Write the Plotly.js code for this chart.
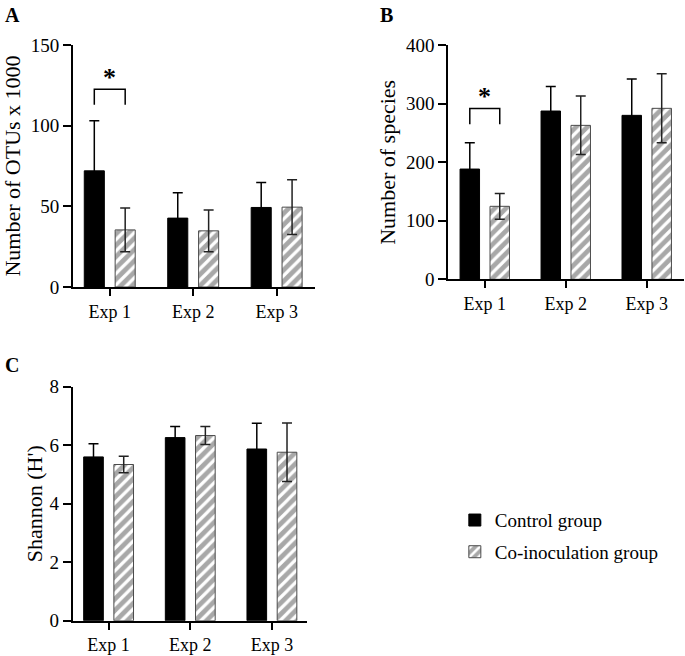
<!DOCTYPE html>
<html>
<head>
<meta charset="utf-8">
<script src="https://cdn.plot.ly/plotly-3.0.1.min.js"></script>
<style>html,body{margin:0;padding:0;background:#fff;}#chart{width:685px;height:656px;}</style>
</head>
<body>
<div id="chart"></div>
<script>
// ---- data ----
const categories = ["Exp 1", "Exp 2", "Exp 3"];
const seriesNames = ["Control group", "Co-inoculation group"];

const otuControl = [72, 42.7, 49.3];
const otuControlErr = [31, 15.7, 15.5];
const otuCoinoc = [35.4, 34.8, 49.5];
const otuCoinocErr = [13.5, 13, 17];

const speciesControl = [188.5, 287.7, 280.3];
const speciesControlErr = [45, 42, 62];
const speciesCoinoc = [124.8, 263.2, 292.3];
const speciesCoinocErr = [22, 50, 59];

const shannonControl = [5.6, 6.26, 5.87];
const shannonControlErr = [0.45, 0.38, 0.88];
const shannonCoinoc = [5.34, 6.33, 5.76];
const shannonCoinocErr = [0.28, 0.31, 1.0];

const otuTicks = [0, 50, 100, 150];
const speciesTicks = [0, 100, 200, 300, 400];
const shannonTicks = [0, 2, 4, 6, 8];

// significance brackets (data units): [bracket top, leg bottom, star]
const otuSig = [122.5, 113, 130];
const speciesSig = [292, 265, 313];

// ---- style ----
const serif = "Liberation Serif";
const ctrlColor = "#000000";
const coBg = "#a8a8a8";

function ctrlTrace(y, err, xa, ya, show) {
  return {
    type: "bar", x: categories, y: y, name: seriesNames[0],
    xaxis: xa, yaxis: ya, showlegend: show, legendgroup: "g1",
    marker: {color: ctrlColor, line: {color: "#000", width: 1}},
    error_y: {type: "data", array: err, visible: true, color: "#000", thickness: 1.5, width: 5}
  };
}
function coTrace(y, err, xa, ya, show) {
  return {
    type: "bar", x: categories, y: y, name: seriesNames[1],
    xaxis: xa, yaxis: ya, showlegend: show, legendgroup: "g2",
    marker: {color: coBg, line: {color: "#4a4a4a", width: 1},
      pattern: {shape: "/", bgcolor: coBg, fgcolor: "#ffffff", size: 8, solidity: 0.4, fillmode: "replace"}},
    error_y: {type: "data", array: err, visible: true, color: "#222", thickness: 1.5, width: 5}
  };
}

const data = [
  ctrlTrace(otuControl, otuControlErr, "x", "y", true),
  coTrace(otuCoinoc, otuCoinocErr, "x", "y", true),
  ctrlTrace(speciesControl, speciesControlErr, "x2", "y2", false),
  coTrace(speciesCoinoc, speciesCoinocErr, "x2", "y2", false),
  ctrlTrace(shannonControl, shannonControlErr, "x3", "y3", false),
  coTrace(shannonCoinoc, shannonCoinocErr, "x3", "y3", false)
];

function xAx(domain, anchor, range) {
  return {
    domain: domain, anchor: anchor, type: "category", range: range,
    showline: true, linecolor: "#000", linewidth: 2, showgrid: false, zeroline: false,
    ticks: "outside", ticklen: 7, tickwidth: 2, tickcolor: "#000",
    tickfont: {family: serif, size: 18, color: "#000"}, fixedrange: true
  };
}
function yAx(domain, anchor, range, tickvals, title, standoff) {
  return {
    domain: domain, anchor: anchor, range: range, tickvals: tickvals,
    showline: true, linecolor: "#000", linewidth: 2, showgrid: false, zeroline: false,
    ticks: "outside", ticklen: 8, tickwidth: 2, tickcolor: "#000",
    tickfont: {family: serif, size: 19, color: "#000"},
    title: {text: title, font: {family: serif, size: 22, color: "#000"}, standoff: standoff},
    fixedrange: true
  };
}

function bracket(xa, ya, sig) {
  return {
    type: "path", xref: xa, yref: ya,
    path: "M -0.185," + sig[1] + " L -0.185," + sig[0] + " L 0.185," + sig[0] + " L 0.185," + sig[1],
    line: {color: "#000", width: 1.5}
  };
}

const layout = {
  width: 685, height: 656,
  margin: {l: 0, r: 0, t: 0, b: 0},
  paper_bgcolor: "#fff", plot_bgcolor: "#fff",
  font: {family: serif, color: "#000"},
  barmode: "group", bargap: 0.26, bargroupgap: 0.35,
  showlegend: true,
  legend: {x: 0.664, y: 0.236, xanchor: "left", yanchor: "top",
    font: {family: serif, size: 19, color: "#000"}, tracegroupgap: 4, bgcolor: "rgba(0,0,0,0)"},
  xaxis: xAx([0.1066, 0.4599], "y", [-0.44, 2.46]),
  yaxis: yAx([0.5625, 0.9314], "x", [0, 150], otuTicks, "Number of OTUs x 1000", 6),
  xaxis2: xAx([0.6545, 0.9985], "y2", [-0.45, 2.46]),
  yaxis2: yAx([0.5742, 0.9309], "x2", [0, 400], speciesTicks, "Number of species", 4),
  xaxis3: xAx([0.1061, 0.4482], "y3", [-0.44, 2.43]),
  yaxis3: yAx([0.0538, 0.4105], "x3", [0, 8], shannonTicks, "Shannon (H')", 1),
  shapes: [bracket("x", "y", otuSig), bracket("x2", "y2", speciesSig)],
  annotations: [
    {xref: "x", yref: "y", x: 0, y: otuSig[2], text: "<b>*</b>", showarrow: false,
      font: {family: serif, size: 26, color: "#000"}, yanchor: "middle"},
    {xref: "x2", yref: "y2", x: 0, y: speciesSig[2], text: "<b>*</b>", showarrow: false,
      font: {family: serif, size: 26, color: "#000"}, yanchor: "middle"},
    {xref: "paper", yref: "paper", x: 3/685, y: 1 - 2/656, xanchor: "left", yanchor: "top",
      text: "<b>A</b>", showarrow: false, font: {family: serif, size: 20, color: "#000"}},
    {xref: "paper", yref: "paper", x: 378/685, y: 1 - 2/656, xanchor: "left", yanchor: "top",
      text: "<b>B</b>", showarrow: false, font: {family: serif, size: 20, color: "#000"}},
    {xref: "paper", yref: "paper", x: 3/685, y: 1 - 352/656, xanchor: "left", yanchor: "top",
      text: "<b>C</b>", showarrow: false, font: {family: serif, size: 20, color: "#000"}}
  ]
};

Plotly.newPlot("chart", data, layout, {displayModeBar: false, staticPlot: true});
</script>
</body>
</html>
